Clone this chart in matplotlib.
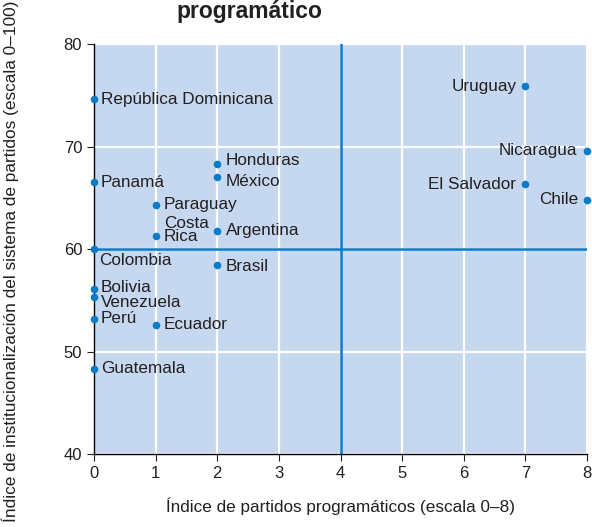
import matplotlib.pyplot as plt

plt.rcParams['font.family'] = ['Liberation Sans', 'DejaVu Sans']

# datos: índice de partidos programáticos (x) e institucionalización (y)
paises = ['República Dominicana', 'Uruguay', 'Nicaragua', 'Honduras', 'México',
          'Panamá', 'El Salvador', 'Chile', 'Paraguay', 'Argentina',
          'Costa\nRica', 'Colombia', 'Brasil', 'Bolivia', 'Venezuela',
          'Perú', 'Ecuador', 'Guatemala']
x_vals = [0, 7, 8, 2, 2, 0, 7, 8, 1, 2, 1, 0, 2, 0, 0, 0, 1, 0]
y_vals = [74.6, 75.9, 69.6, 68.3, 67.0, 66.5, 66.3, 64.8, 64.3, 61.8,
          61.3, 60.0, 58.4, 56.1, 55.3, 53.2, 52.6, 48.3]

# desplazamiento de cada etiqueta (puntos) y alineación
offsets = {
    'República Dominicana': (5, 0, 'left'),
    'Uruguay': (-6, 0, 'right'),
    'Nicaragua': (-7, 0, 'right'),
    'Honduras': (6, 2.5, 'left'),
    'México': (6, -3, 'left'),
    'Panamá': (5, 0, 'left'),
    'El Salvador': (-7, 0, 'right'),
    'Chile': (-6, 0, 'right'),
    'Paraguay': (6, 0, 'left'),
    'Argentina': (6, 0, 'left'),
    'Costa\nRica': (6, 4, 'left'),
    'Colombia': (3.5, -8.5, 'left'),
    'Brasil': (6, -0.5, 'left'),
    'Bolivia': (5, 1, 'left'),
    'Venezuela': (5, -4, 'left'),
    'Perú': (5, 0, 'left'),
    'Ecuador': (6, 0, 'left'),
    'Guatemala': (5, 0, 'left'),
}

azul = '#0a7bc8'
fondo = '#c6d8ef'
texto = '#231f20'

fig = plt.figure(figsize=(5.92, 5.27), dpi=100)
ax = fig.add_axes([0.1588, 0.1385, 0.8328, 0.778])
ax.set_facecolor(fondo)

ax.set_xlim(0, 8)
ax.set_ylim(40, 80)
ax.set_xticks(range(0, 9))
ax.set_yticks([40, 50, 60, 70, 80])
ax.grid(True, color='white', linewidth=1.6)
ax.set_axisbelow(True)

ax.axvline(4, color=azul, linewidth=1.8, zorder=2)
ax.axhline(60, color=azul, linewidth=1.8, zorder=2)

ax.scatter(x_vals, y_vals, s=20, color=azul, zorder=3, clip_on=False)

for nombre, xv, yv in zip(paises, x_vals, y_vals):
    dx, dy, ha = offsets[nombre]
    ax.annotate(nombre, (xv, yv), xytext=(dx, dy), textcoords='offset points',
                ha=ha, va='center', fontsize=12.3, color=texto,
                linespacing=0.8)

for s in ['top', 'right']:
    ax.spines[s].set_visible(False)
ax.spines['left'].set_linewidth(1.0)
ax.spines['bottom'].set_linewidth(1.0)
ax.tick_params(axis='both', labelsize=12, direction='out', length=5,
               colors=texto)

ax.set_xlabel('Índice de partidos programáticos (escala 0–8)', fontsize=12.3,
              labelpad=12, color=texto)
fig.text(0.018, 0.504,
         'Índice de institucionalización del sistema de partidos (escala 0–100)',
         rotation=90, ha='center', va='center', fontsize=12.4, color=texto)

fig.text(0.421, 0.965, 'programático', ha='center', va='baseline',
         fontsize=16.5, fontweight='bold', color=texto)

plt.savefig('out.png', dpi=100)
